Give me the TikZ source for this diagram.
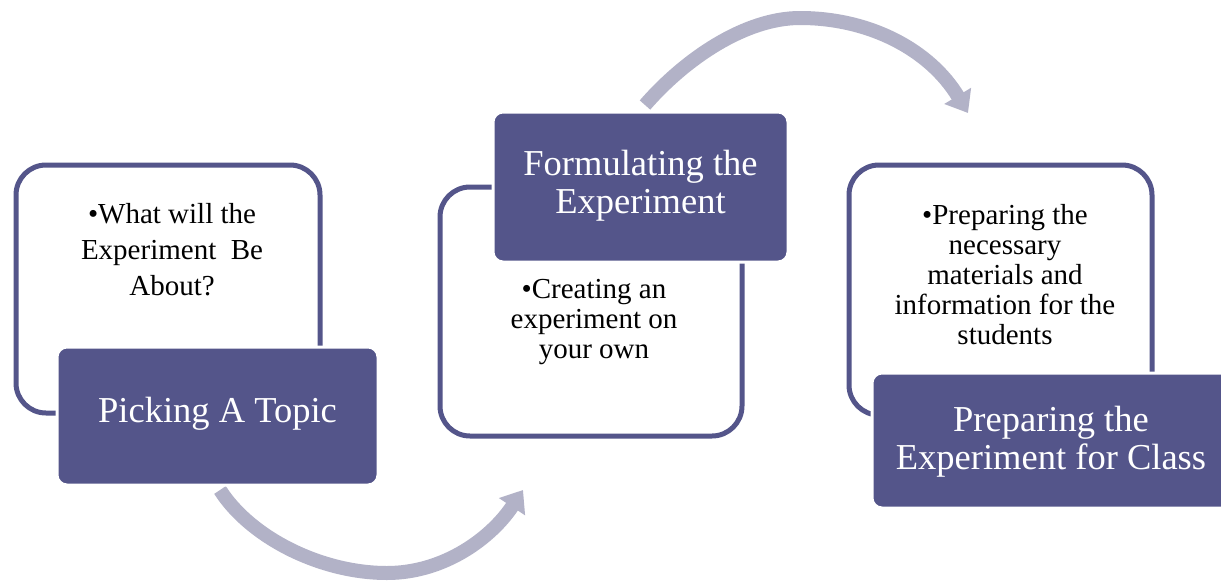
\documentclass[tikz,border=0pt]{standalone}
\usepackage{fontspec}
\setmainfont{Liberation Serif}
\usetikzlibrary{arrows.meta}
\definecolor{slate}{RGB}{84,85,138}
\definecolor{arrowgray}{RGB}{178,178,199}
\tikzset{
  outlinebox/.style={draw=slate, line width=5pt, rounded corners=30pt, fill=white, inner sep=0pt},
  darkbox/.style={draw=white, line width=3pt, fill=slate, rounded corners=10pt, inner sep=0pt},
  bigtext/.style={text=white, align=center, font=\fontsize{36.5}{38}\selectfont},
  smalltext/.style={text=black, align=center, font=\fontsize{29}{30}\selectfont},
  cyclearrow/.style={draw=arrowgray, line width=14pt, -{Triangle[length=20pt,width=30pt]}}
}
\begin{document}
\begin{tikzpicture}[x=1pt,y=-1pt]
\path[use as bounding box, clip] (0,0) rectangle (1221,581);
\fill[white] (0,0) rectangle (1221,581);
% arrow coordinates
\coordinate (a1s) at (645,105);
\coordinate (a1m) at (800,18);
\coordinate (a1e) at (968,113);
\coordinate (a2s) at (220,490);
\coordinate (a2m) at (387,573);
\coordinate (a2e) at (523,490);
% arrows
\draw[cyclearrow] (a1s) .. controls (685,59) and (745,18) .. (a1m) .. controls (870,18) and (930,50) .. (a1e);
\draw[cyclearrow] (a2s) .. controls (250,537) and (320,573) .. (a2m) .. controls (445,573) and (492,537) .. (a2e);
% outline boxes
\node[outlinebox, minimum width=304pt, minimum height=248pt] (o1) at (168,289) {};
\node[outlinebox, minimum width=302pt, minimum height=249pt] (o2) at (591,311.5) {};
\node[outlinebox, minimum width=303pt, minimum height=250pt] (o3) at (1000.5,290) {};
% bullet texts
\node[smalltext, font=\fontsize{29}{36}\selectfont] (t1) at (172,250) {•What will the\\Experiment\ \ Be\\About?};
\node[smalltext] (t2) at (594,322) {•Creating an\\experiment on\\your own};
\node[smalltext] (t3) at (1005,275) {•Preparing the\\necessary\\materials and\\information for the\\students};
% dark boxes
\node[darkbox, minimum width=321pt, minimum height=138pt] (d1) at (217.5,416) {};
\node[darkbox, minimum width=295pt, minimum height=150pt] (d2) at (640.5,187) {};
\node[darkbox, minimum width=365pt, minimum height=135pt] (d3) at (1054.5,440.5) {};
\node[bigtext] (h1) at (217.5,414) {Picking A Topic};
\node[bigtext] (h2) at (640.5,186) {Formulating the\\Experiment};
\node[bigtext] (h3) at (1051,442) {Preparing the\\Experiment for Class};
\end{tikzpicture}
\end{document}
